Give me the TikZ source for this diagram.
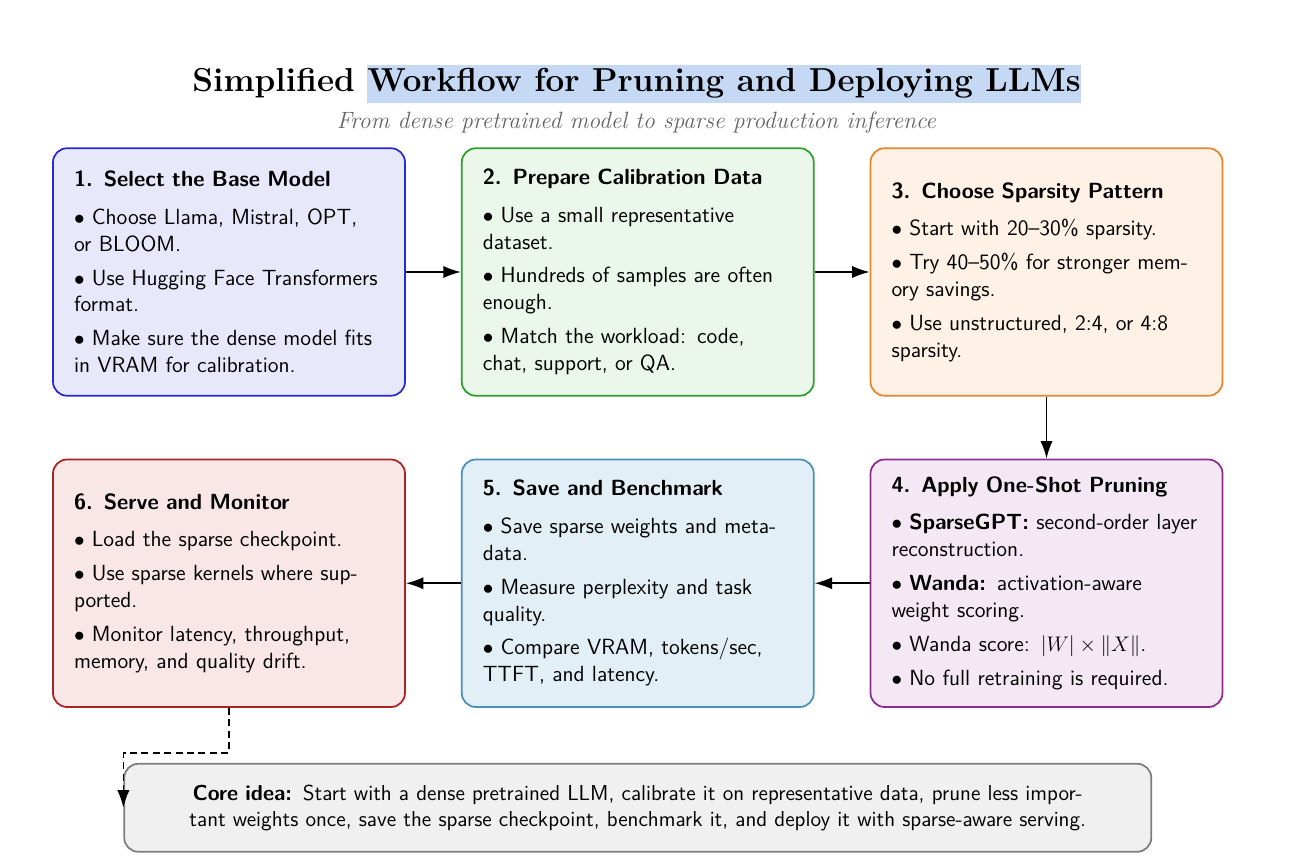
\documentclass[tikz,border=0pt]{standalone}
\usepackage{amsmath, amssymb}
\usepackage{fontspec}
\usepackage{xcolor}
\usepackage{tikz}
\usetikzlibrary{positioning, arrows.meta}

\definecolor{selblue}{RGB}{197,217,245}
\definecolor{subgray}{RGB}{100,100,100}
\definecolor{selectline}{RGB}{40,40,215}
\definecolor{selectfill}{RGB}{232,232,251}
\definecolor{calibline}{RGB}{45,160,45}
\definecolor{calibfill}{RGB}{234,247,234}
\definecolor{patternline}{RGB}{228,135,45}
\definecolor{patternfill}{RGB}{254,242,230}
\definecolor{pruneline}{RGB}{140,45,140}
\definecolor{prunefill}{RGB}{244,232,244}
\definecolor{benchline}{RGB}{75,145,182}
\definecolor{benchfill}{RGB}{227,239,246}
\definecolor{serveline}{RGB}{170,35,35}
\definecolor{servefill}{RGB}{249,230,230}
\definecolor{coreline}{RGB}{125,125,125}
\definecolor{corefill}{RGB}{240,240,240}

\setlength{\fboxsep}{0pt}

\begin{document}
\begin{tikzpicture}[
    stepbox/.style={draw, line width=1pt, rounded corners=8pt, text width=6.2cm,
        inner xsep=0.42cm, inner ysep=0.3cm, minimum height=4.95cm, align=left,
        font=\sffamily\fontsize{12.5}{15.3}\selectfont},
    flow/.style={line width=1pt, -{Latex[length=10pt,width=7pt]}}
]
    \useasboundingbox (0,0) rectangle (25.96,17.24);

    % heading
    \node[font=\bfseries\fontsize{18.9}{22}\selectfont] (title) at (12.73,15.56)
        {Simplified \colorbox{selblue}{\strut Workflow for Pruning and Deploying LLMs}};
    \node[font=\itshape\fontsize{13.4}{15}\selectfont, text=subgray] (subtitle) at (12.73,14.78)
        {From dense pretrained model to sparse production inference};

    % top row
    \node[stepbox, draw=selectline, fill=selectfill] (select) at (4.58,11.8) {%
        \textbf{1. Select the Base Model}\\[6pt]
        $\bullet$ Choose Llama, Mistral, OPT, or~BLOOM.\\[4pt]
        $\bullet$ Use Hugging Face Transformers format.\\[4pt]
        $\bullet$ Make sure the dense model fits in VRAM for calibration.};
    \node[stepbox, draw=calibline, fill=calibfill, right=1.1cm of select] (calib) {%
        \textbf{2. Prepare Calibration Data}\\[6pt]
        $\bullet$ Use a small representative dataset.\\[4pt]
        $\bullet$ Hundreds of samples are often enough.\\[4pt]
        $\bullet$ Match the workload: code, chat,~support, or QA.};
    \node[stepbox, draw=patternline, fill=patternfill, right=1.1cm of calib] (pattern) {%
        \textbf{3. Choose Sparsity Pattern}\\[6pt]
        $\bullet$ Start with 20--30\% sparsity.\\[4pt]
        $\bullet$ Try 40--50\% for stronger memory savings.\\[4pt]
        $\bullet$ Use unstructured, 2:4, or 4:8 sparsity.};

    % bottom row
    \node[stepbox, draw=pruneline, fill=prunefill, below=1.24cm of pattern] (prune) {%
        \textbf{4. Apply One-Shot Pruning}\\[6pt]
        $\bullet$ \textbf{SparseGPT:} second-order layer reconstruction.\\[4pt]
        $\bullet$ \textbf{Wanda:} activation-aware weight scoring.\\[4pt]
        $\bullet$ Wanda score: $|W| \times \|X\|$.\\[4pt]
        $\bullet$ No full retraining is required.};
    \node[stepbox, draw=benchline, fill=benchfill, left=1.1cm of prune] (bench) {%
        \textbf{5. Save and Benchmark}\\[6pt]
        $\bullet$ Save sparse weights and metadata.\\[4pt]
        $\bullet$ Measure perplexity and task quality.\\[4pt]
        $\bullet$ Compare VRAM, tokens/sec, TTFT, and latency.};
    \node[stepbox, draw=serveline, fill=servefill, left=1.1cm of bench] (serve) {%
        \textbf{6. Serve and Monitor}\\[6pt]
        $\bullet$ Load the sparse checkpoint.\\[4pt]
        $\bullet$ Use sparse kernels where supported.\\[4pt]
        $\bullet$ Monitor latency, throughput, memory, and quality drift.};

    \node[draw=coreline, fill=corefill, line width=1pt, rounded corners=8pt,
        text width=18.1cm, inner xsep=1.22cm, inner ysep=0.3cm, minimum height=1.76cm,
        align=center, font=\sffamily\fontsize{12.3}{15}\selectfont,
        below=1.1cm of bench] (core)
        {\textbf{Core idea:} Start with a dense pretrained LLM, calibrate it on representative data, prune less important weights once, save the sparse checkpoint, benchmark it, and deploy it with sparse-aware serving.};

    \draw[flow] (select) -- (calib);
    \draw[flow] (calib) -- (pattern);
    \draw[flow] (pattern) -- (prune);
    \draw[flow] (prune) -- (bench);
    \draw[flow] (bench) -- (serve);
    \draw[flow, dash pattern={on 4pt off 2.5pt}] (serve.south) -- ++(0,-0.9) -| (core.west);
\end{tikzpicture}
\end{document}
